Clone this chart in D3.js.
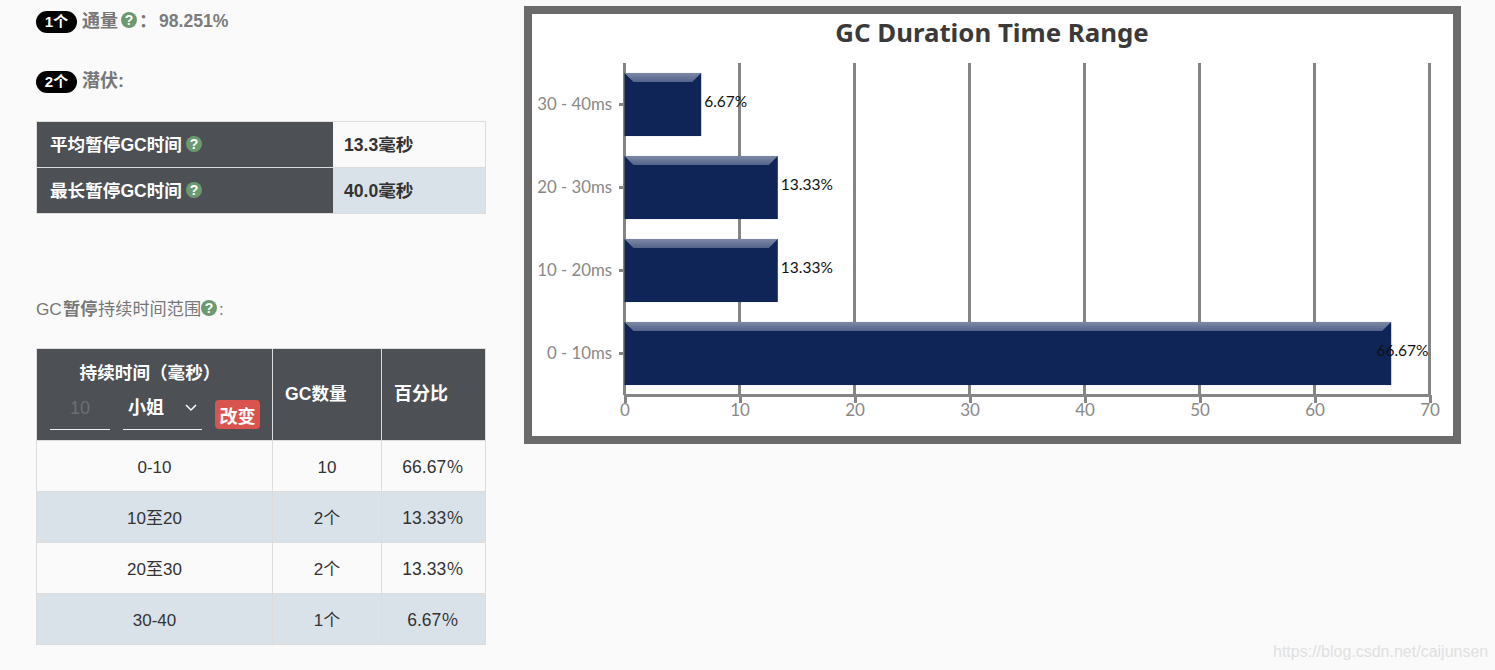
<!DOCTYPE html>
<html>
<head>
<meta charset="utf-8">
<title>GC Duration Time Range</title>
<script src="https://d3js.org/d3.v7.min.js"></script>
<style>
html, body {margin:0; padding:0; background:#fafafa; overflow:hidden;}
svg {display:block;}
text {font-family:"Liberation Sans","Noto Sans CJK SC",sans-serif;}
.chart text {font-family:Lato,sans-serif;}
.axis path, .axis line {stroke:#858585; stroke-width:3; shape-rendering:crispEdges;}
.axis text {fill:#888; font-family:Lato,sans-serif;}
</style>
</head>
<body>
<svg width="1495" height="670"></svg>
<script>
// chart data
var categories = ["0 - 10ms", "10 - 20ms", "20 - 30ms", "30 - 40ms"];
var percents = [66.67, 13.33, 13.33, 6.67];
var percentLabels = ["66.67%", "13.33%", "13.33%", "6.67%"];
var xTicks = [0, 10, 20, 30, 40, 50, 60, 70];

// left hand tables
var pauseNames = ["平均暂停GC时间", "最长暂停GC时间"];
var pauseValues = ["13.3毫秒", "40.0毫秒"];
var rangeNames = ["0-10", "10至20", "20至30", "30-40"];
var rangeCounts = ["10", "2个", "2个", "1个"];
var rangePercents = ["66.67％", "13.33％", "13.33％", "6.67％"];

var svg = d3.select("svg");
var dark = "#4d5055", stripe = "#d9e2e8", line = "#dcdcdc", green = "#6c9a70";

function label(g, s, x, y, size, color, weight, anchor) {
  return g.append("text").attr("x", x).attr("y", y).attr("font-size", size)
    .attr("fill", color).attr("font-weight", weight || "normal")
    .attr("text-anchor", anchor || "start").text(s);
}
function help(g, x, y) {
  g.append("circle").attr("cx", x).attr("cy", y).attr("r", 8).attr("fill", green);
  label(g, "?", x, y + 5, 14, "#fff", "bold", "middle");
}
function badge(g, s, y) {
  g.append("rect").attr("x", 36).attr("y", y).attr("width", 41).attr("height", 22).attr("rx", 11).attr("fill", "#000");
  label(g, s, 56.5, y + 16, 15, "#fff", "bold", "middle");
}

// ---- left column
var left = svg.append("g");
badge(left, "1个", 11);
label(left, "通量", 82, 27, 18, "#777", "bold");
help(left, 129, 20);
label(left, "：", 139, 27, 18, "#777", "bold");
label(left, "98.251%", 159, 27, 17.6, "#7c7c7c", "bold");
badge(left, "2个", 71);
label(left, "潜伏:", 82, 87, 18, "#777", "bold");

// pause table
var pauseY = d3.scaleBand().domain(pauseNames).range([122, 214]);
var pause = left.append("g");
pause.selectAll("g").data(pauseNames).enter().append("g").each(function(d, i) {
  var g = d3.select(this), y = pauseY(d);
  g.append("rect").attr("x", 37).attr("y", y).attr("width", 296).attr("height", pauseY.bandwidth()).attr("fill", dark);
  g.append("rect").attr("x", 333).attr("y", y).attr("width", 152).attr("height", pauseY.bandwidth()).attr("fill", i ? stripe : "#fafafa");
  label(g, d, 50, y + 29, 17.6, "#fff", "bold");
  help(g, 194, y + 22);
  label(g, pauseValues[i], 344, y + 29, 17.6, "#333", "bold");
});
pause.append("rect").attr("x", 36.5).attr("y", 121.5).attr("width", 449).attr("height", 92).attr("fill", "none").attr("stroke", line);
pause.append("line").attr("x1", 37).attr("x2", 485).attr("y1", 167.5).attr("y2", 167.5).attr("stroke", line);

// range table
label(left, "GC", 36, 315, 17.2, "#777");
label(left, "暂停", 63, 315, 17.2, "#777", "bold");
label(left, "持续时间范围", 98, 315, 17.2, "#777");
help(left, 209, 308);
label(left, ":", 219, 315, 17, "#777");

var colX = [37, 272, 381, 485];
var rangeY = d3.scaleBand().domain(rangeNames).range([441, 645]);
var range = left.append("g");
range.append("rect").attr("x", 37).attr("y", 349).attr("width", 448).attr("height", 91).attr("fill", dark);
range.selectAll(".row").data(rangeNames).enter().append("g").attr("class", "row").each(function(d, i) {
  var g = d3.select(this), y = rangeY(d);
  g.append("rect").attr("x", 37).attr("y", y).attr("width", 448).attr("height", rangeY.bandwidth()).attr("fill", i % 2 ? stripe : "#fafafa");
  g.append("line").attr("x1", 37).attr("x2", 485).attr("y1", y - 0.5).attr("y2", y - 0.5).attr("stroke", line);
  label(g, d, 154.5, y + 32, 17, "#333", "normal", "middle");
  label(g, rangeCounts[i], 327, y + 32, 17, "#333", "normal", "middle");
  label(g, rangePercents[i], 433, y + 32, 17.5, "#333", "normal", "middle");
});
range.append("rect").attr("x", 36.5).attr("y", 348.5).attr("width", 449).attr("height", 296).attr("fill", "none").attr("stroke", line);
range.selectAll(".col").data(colX.slice(1, 3)).enter().append("line").attr("class", "col")
  .attr("x1", function(d) { return d + 0.5; }).attr("x2", function(d) { return d + 0.5; })
  .attr("y1", 349).attr("y2", 644).attr("stroke", line);

label(range, "持续时间（毫秒）", 150, 379, 17.6, "#fff", "bold", "middle");
label(range, "GC数量", 285, 400, 17.6, "#fff", "bold");
label(range, "百分比", 394, 400, 18, "#fff", "bold");
label(range, "10", 80, 414, 18, "#6d6f72", "normal", "middle");
label(range, "小姐", 128, 414, 18, "#fff", "bold");
range.append("path").attr("d", "M186,405 L191,410 L196,405").attr("fill", "none").attr("stroke", "#fff").attr("stroke-width", 1.5);
range.append("line").attr("x1", 50).attr("x2", 110).attr("y1", 429.5).attr("y2", 429.5).attr("stroke", "#eee");
range.append("line").attr("x1", 123).attr("x2", 202).attr("y1", 429.5).attr("y2", 429.5).attr("stroke", "#eee");
range.append("rect").attr("x", 215).attr("y", 400).attr("width", 45).attr("height", 29).attr("rx", 4).attr("fill", "#d9534f");
label(range, "改变", 237.5, 423, 18, "#fff", "bold", "middle");

// ---- chart
var chart = svg.append("g").attr("class", "chart");
chart.append("rect").attr("x", 528).attr("y", 10).attr("width", 929).attr("height", 430)
  .attr("fill", "#fff").attr("stroke", "#6b6b6b").attr("stroke-width", 8);
label(chart, "GC Duration Time Range", 992, 42, 25.8, "#3a3a3a", "bold", "middle").style("font-family", "'Noto Sans',sans-serif");

var grad = svg.append("defs").append("linearGradient").attr("id", "bevel").attr("x1", 0).attr("x2", 0).attr("y1", 0).attr("y2", 1);
grad.append("stop").attr("offset", 0).attr("stop-color", "#7d89a6");
grad.append("stop").attr("offset", 1).attr("stop-color", "#53638a");

var x = d3.scaleLinear().domain([0, 70]).range([624.5, 1429.5]);
var y = d3.scaleBand().domain(categories).range([395, 63]).paddingInner(0.24).paddingOuter(0.12);

// grid first so the bars sit on top
chart.selectAll(".grid").data(xTicks).enter().append("line").attr("class", "grid")
  .attr("x1", x).attr("x2", x).attr("y1", 63).attr("y2", 395)
  .attr("stroke", "#858585").attr("stroke-width", 3).attr("shape-rendering", "crispEdges");

var xAxis = chart.append("g").attr("class", "axis").attr("transform", "translate(0,395)")
  .call(d3.axisBottom(x).tickValues(xTicks).tickSize(8).tickSizeOuter(0).tickPadding(1));
xAxis.selectAll("text").attr("font-size", 17);
var yAxis = chart.append("g").attr("class", "axis").attr("transform", "translate(624.5,0)")
  .call(d3.axisLeft(y).tickSize(6).tickSizeOuter(0).tickPadding(6.5));
yAxis.selectAll("text").attr("font-size", 16.8);
yAxis.select(".domain").remove();

var bevel = 9;
var bars = chart.selectAll(".bar").data(categories).enter().append("g").attr("class", "bar");
bars.append("rect")
  .attr("x", x(0)).attr("y", function(d) { return y(d); })
  .attr("width", function(d, i) { return x(percents[i]) - x(0); })
  .attr("height", y.bandwidth()).attr("fill", "#0f2557");
bars.append("path").attr("fill", "url(#bevel)").attr("d", function(d, i) {
  var x0 = x(0), x1 = x(percents[i]), t = y(d);
  return "M" + x0 + "," + t + "L" + x1 + "," + t + "L" + (x1 - bevel) + "," + (t + bevel) + "L" + (x0 + bevel) + "," + (t + bevel) + "Z";
});
bars.append("text").attr("font-size", 15.5).attr("fill", "#111")
  .attr("y", function(d) { return y(d) + y.bandwidth() / 2 + 2.5; })
  .text(function(d, i) { return percentLabels[i]; })
  .attr("x", function(d, i) {
    // keep the label inside the plot area
    return Math.min(x(percents[i]) + 3, x(70) - 1 - this.getComputedTextLength());
  });

label(svg, "https://blog.csdn.net/caijunsen", 1273, 657, 16, "#e0e0e0");
</script>
</body>
</html>
